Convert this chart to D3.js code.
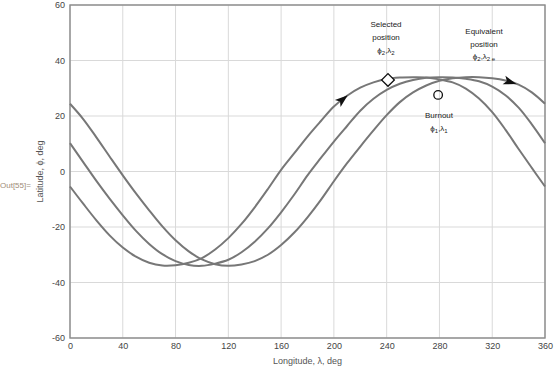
<!DOCTYPE html>
<html><head><meta charset="utf-8">
<script src="https://cdn.jsdelivr.net/npm/d3@7"></script>
<style>body{margin:0;background:#fff}svg{display:block;font-family:"Liberation Sans",Arial,sans-serif}</style>
</head><body><svg id="c" width="554" height="370"></svg>
<script>
const longitudes = d3.range(0, 361, 10);
const trackA = [-5.4,-11.6,-17.6,-23.0,-27.4,-30.7,-32.9,-33.9,-33.8,-32.9,-31.2,-28.1,-24.0,-18.9,-12.9,-6.3,0.6,6.6,12.6,18.1,23.4,27.3,30.2,32.1,33.4,33.9,34.0,33.9,33.2,32.1,29.9,26.3,21.4,15.1,8.1,1.3,-5.4];
const trackB = [10.2,3.4,-3.4,-9.8,-15.8,-21.4,-26.1,-29.8,-32.3,-33.7,-34.0,-33.2,-31.8,-29.1,-25.3,-20.5,-14.7,-8.3,-1.4,4.8,10.8,16.4,21.9,26.2,29.4,31.6,33.0,33.8,34.0,33.9,33.4,32.5,30.6,27.5,23.0,17.0,10.2];
const trackC = [24.4,18.9,12.3,5.4,-1.4,-7.9,-14.0,-19.8,-24.8,-28.8,-31.7,-33.4,-34.0,-33.5,-32.3,-30.0,-26.5,-22.0,-16.5,-10.3,-3.5,3.0,9.0,14.8,20.3,25.0,28.5,31.0,32.7,33.6,34.0,34.0,33.6,32.8,31.3,28.5,24.4];
const xTicks = [0,40,80,120,160,200,240,280,320,360];
const yTicks = [-60,-40,-20,0,20,40,60];
const selected = {lon:241, lat:33};
const burnout = {lon:279, lat:27.6};
const arrows = [{track:0, lon:207},{track:2, lon:334}];

const svg = d3.select("#c");
const x = d3.scaleLinear().domain([0,360]).range([70,545]);
const y = d3.scaleLinear().domain([-60,60]).range([338,5]);

// grid
svg.append("g").selectAll("line").data(xTicks).join("line")
  .attr("x1",d=>x(d)).attr("x2",d=>x(d)).attr("y1",y(-60)).attr("y2",y(60))
  .attr("stroke","#d9d9d9").attr("stroke-width",1);
svg.append("g").selectAll("line").data(yTicks).join("line")
  .attr("y1",d=>y(d)).attr("y2",d=>y(d)).attr("x1",x(0)).attr("x2",x(360))
  .attr("stroke","#d9d9d9").attr("stroke-width",1);

// axes
const ax = svg.append("g").attr("transform",`translate(0,${y(-60)})`)
  .call(d3.axisBottom(x).tickValues(xTicks).tickSize(0).tickPadding(5).tickFormat(d3.format("d")));
const ay = svg.append("g").attr("transform",`translate(${x(0)},0)`)
  .call(d3.axisLeft(y).tickValues(yTicks).tickSize(0).tickPadding(5).tickFormat(d=>String(d)));
[ax,ay].forEach(g=>{g.select(".domain").remove();g.selectAll("text").attr("fill","#444").attr("font-size","9px");});

// frame
svg.append("rect").attr("x",x(0)).attr("y",y(60)).attr("width",x(360)-x(0)).attr("height",y(-60)-y(60))
  .attr("fill","none").attr("stroke","#8a8a8a").attr("stroke-width",1.4);

// tracks
const tracks = [trackA, trackB, trackC];
const line = d3.line().x(d=>x(d[0])).y(d=>y(d[1])).curve(d3.curveCatmullRom);
svg.append("g").selectAll("path").data(tracks).join("path")
  .attr("d",t=>line(longitudes.map((l,i)=>[l,t[i]])))
  .attr("fill","none").attr("stroke","#777").attr("stroke-width",2);

// arrows
function latAt(t,lon){const i=Math.min(Math.floor(lon/10),35);const f=(lon-longitudes[i])/10;return t[i]*(1-f)+t[i+1]*f;}
arrows.forEach(a=>{
  const t=tracks[a.track];
  const px=x(a.lon), py=y(latAt(t,a.lon));
  const qx=x(a.lon+1), qy=y(latAt(t,a.lon+1));
  const ang=Math.atan2(qy-py,qx-px)*180/Math.PI;
  svg.append("path").attr("d","M6,0 L-7,-4.5 L-4,0 L-7,4.5 Z")
    .attr("transform",`translate(${px},${py}) rotate(${ang})`).attr("fill","#111");
});

// markers
svg.append("rect").attr("x",-4.5).attr("y",-4.5).attr("width",9).attr("height",9)
  .attr("transform",`translate(${x(selected.lon)},${y(selected.lat)}) rotate(45)`)
  .attr("fill","#fff").attr("stroke","#111").attr("stroke-width",1.3);
svg.append("circle").attr("cx",x(burnout.lon)).attr("cy",y(burnout.lat)).attr("r",4.3)
  .attr("fill","none").attr("stroke","#111").attr("stroke-width",1.3);

// annotations
function label(cx, ys, lines){
  lines.forEach((ln,i)=>{
    const t=svg.append("text").attr("x",cx).attr("y",ys[i]).attr("text-anchor","middle")
      .attr("font-size","8px").attr("fill","#222");
    ln.forEach(p=>{const s=t.append("tspan").text(p.t);
      if(p.sub){s.attr("font-size","6px").attr("dy","2");} else if(p.back){s.attr("dy","-2");}});
  });
}
label(386,[27,40,53],[[{t:"Selected"}],[{t:"position"}],[{t:"\u03D5"},{t:"2",sub:1},{t:",\u03BB",back:1},{t:"2",sub:1}]]);
label(484,[34,47,59],[[{t:"Equivalent"}],[{t:"position"}],[{t:"\u03D5"},{t:"2",sub:1},{t:",\u03BB",back:1},{t:"2 e",sub:1}]]);
label(439,[118,131],[[{t:"Burnout"}],[{t:"\u03D5"},{t:"1",sub:1},{t:",\u03BB",back:1},{t:"1",sub:1}]]);

// axis titles
svg.append("text").attr("x",(x(0)+x(360))/2).attr("y",364).attr("text-anchor","middle")
  .attr("font-size","9px").attr("fill","#555").text("Longitude, \u03BB, deg");
svg.append("text").attr("transform",`translate(43,${y(0)}) rotate(-90)`).attr("text-anchor","middle")
  .attr("font-size","9px").attr("fill","#555").text("Latitude, \u03D5, deg");
svg.append("text").attr("x",0).attr("y",188).attr("font-size","8px").attr("fill","#a08c78").text("Out[55]=");
</script></body></html>
